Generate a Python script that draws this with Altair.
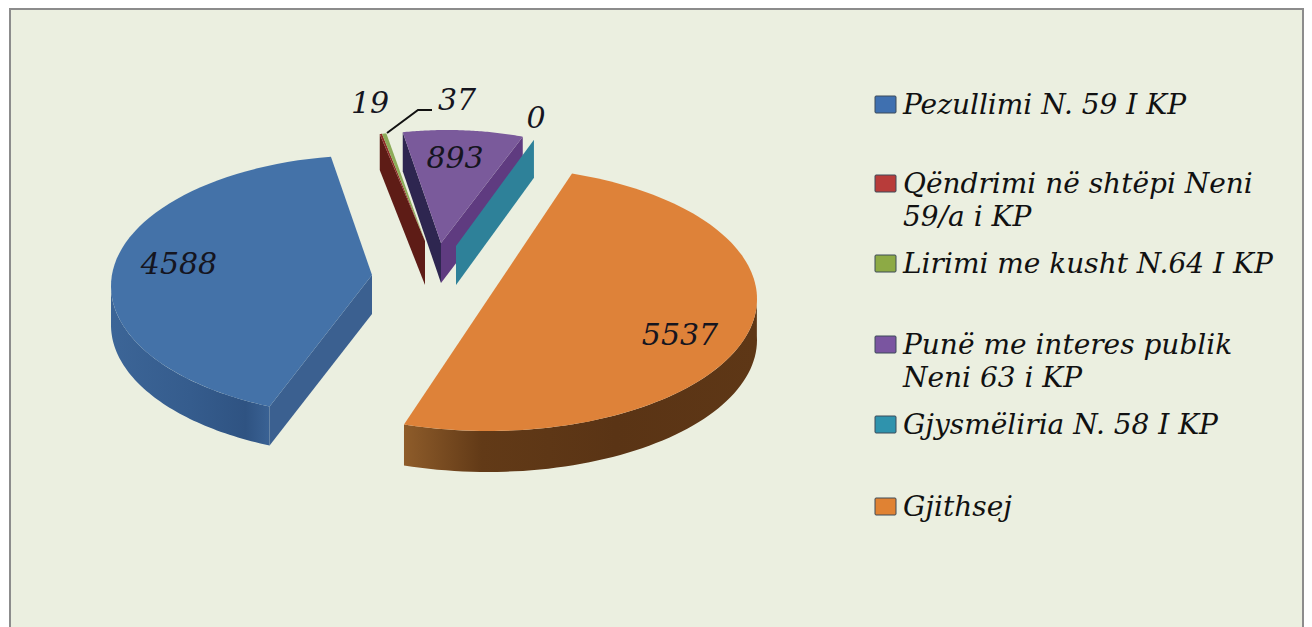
import math
import altair as alt
import pandas as pd

categories = ["Pezullimi  N. 59 I KP", "Qëndrimi në shtëpi  Neni 59/a i KP", "Lirimi me kusht N.64 I KP",
              "Punë me interes publik Neni 63 i KP", "Gjysmëliria N. 58 I KP", "Gjithsej"]
values = [4588, 19, 37, 893, 0, 5537]
face_colors = ["#4472A8", "#8E2C28", "#8CAB58", "#7A5A9B", "#2E8199", "#DE8239"]
legend_colors = ["#3F70B0", "#B83C3A", "#8DAA45", "#7A55A0", "#2F93AD", "#E08233"]
legend_lines = [["Pezullimi  N. 59 I KP"], ["Qëndrimi në shtëpi  Neni", "59/a i KP"], ["Lirimi me kusht N.64 I KP"],
                ["Punë me interes publik", "Neni 63 i KP"], ["Gjysmëliria N. 58 I KP"], ["Gjithsej"]]
legend_y = [106, 185, 265, 346, 426, 508]
LEGEND_STEP = 33
FONT = "DejaVu Serif"

# canvas coordinates of the projected pie
X = alt.X("x:Q", scale=alt.Scale(domain=[8, 1304], range=[0, 1296], nice=False, zero=False), axis=None)
Y = alt.Y("y:Q", scale=alt.Scale(domain=[8, 627], range=[0, 619], nice=False, zero=False), axis=None)

# apex, ellipse centre, radii, depth, rotation tweak for each exploded slice
geom = [
    dict(apex=(372, 275), c=(372, 286), a=261, b=131, d=39, rot=-0.2),
    dict(apex=(425, 241), c=(425, 262), a=210, b=131, d=40, rot=-3.6),
    dict(apex=(425, 241), c=(425, 262), a=210, b=131, d=40, rot=-3.6),
    dict(apex=(441, 243), c=(447, 261), a=240, b=131, d=39, rot=-3.6),
    dict(apex=(456, 246), c=(456, 264), a=247, b=131, d=38, rot=-3.6),
    dict(apex=(488, 299), c=(488, 299), a=269, b=132, d=41, rot=-3.8),
]
START = 202.0
BLUE_PERSPECTIVE = 1.3  # the near edge of the blue slice looks slightly turned in the 3-D view
total = sum(values)
spans = []
cur = START
for v in values:
    spans.append((cur, cur + v / total * 360))
    cur += v / total * 360


def pt(g, th):
    r = math.radians(th + g["rot"])
    return (g["c"][0] + g["a"] * math.sin(r), g["c"][1] - g["b"] * math.cos(r))


def arc(g, t0, t1, n=60):
    return [pt(g, t0 + (t1 - t0) * i / n) for i in range(n + 1)]


def down(points, d):
    return [(x, y + d) for x, y in points]


layers = []


def poly(points, fill):
    df = pd.DataFrame({"x": [p[0] for p in points], "y": [p[1] for p in points], "o": range(len(points))})
    layers.append(alt.Chart(df).mark_line(fill=fill, stroke=None, strokeWidth=0, interpolate="linear-closed")
                  .encode(x=X, y=Y, order="o:Q"))


def grad(stops):
    return alt.Gradient(gradient="linear", x1=0, x2=1, y1=0, y2=0,
                        stops=[alt.GradientStop(offset=o, color=c) for o, c in stops])


# frame
frame = pd.DataFrame({"x": [10], "x2": [1303], "y": [9], "y2": [640]})
layers.append(alt.Chart(frame).mark_rect(fill="#EBEFE0", stroke="#8C8C8C", strokeWidth=2)
              .encode(x=X, x2="x2:Q", y=Y, y2="y2:Q"))

# blue slice
g, (t0, t1) = geom[0], spans[0]
t0 += BLUE_PERSPECTIVE
outer = arc(g, t0, 270)
poly(outer + down(outer, g["d"])[::-1], grad([(0, "#3C6597"), (0.5, "#355C8D"), (0.85, "#2F5382"), (1, "#3A6294")]))
p = pt(g, t0)
poly([p, g["apex"], (g["apex"][0], g["apex"][1] + g["d"]), (p[0], p[1] + g["d"])], "#3B6090")
poly([g["apex"]] + arc(g, t0, t1), face_colors[0])

# red + green sliver
g, (t0, t1) = geom[1], spans[1]
p = pt(g, t0)
poly([p, g["apex"], (g["apex"][0], g["apex"][1] + 44), (p[0], p[1] + 36)], "#5E1C16")
poly([g["apex"]] + arc(g, t0, t1, 4), face_colors[1])
g, (t0, t1) = geom[2], spans[2]
poly([g["apex"]] + arc(g, t0, t1, 4), face_colors[2])

# purple slice
g, (t0, t1) = geom[3], spans[3]
p, q = pt(g, t0), pt(g, t1)
ab = (g["apex"][0], g["apex"][1] + g["d"] + 1)
poly([p, g["apex"], ab, (p[0], p[1] + g["d"])], "#2E2650")
poly([q, g["apex"], ab, (q[0], q[1] + g["d"])], "#5F3B80")
poly([g["apex"]] + arc(g, t0, t1), face_colors[3])

# teal, zero-width slice: only its cut face shows
g, (t0, t1) = geom[4], spans[4]
q = pt(g, t0)
poly([q, g["apex"], (g["apex"][0], g["apex"][1] + g["d"] + 1), (q[0], q[1] + g["d"])], face_colors[4])

# orange slice
g, (t0, t1) = geom[5], spans[5]
outer = arc(g, 92, t1 - 360)
poly(outer + down(outer, g["d"])[::-1],
     grad([(0, "#8E5C2A"), (0.22, "#623A17"), (0.6, "#5A3415"), (1, "#5E3716")]))
poly([g["apex"]] + arc(g, t0, t1, 120), face_colors[5])

# leader line of the "37" label
leader = pd.DataFrame({"x": [387, 418, 432], "y": [133, 110, 110], "o": [0, 1, 2]})
layers.append(alt.Chart(leader).mark_line(color="#111111", strokeWidth=2).encode(x=X, y=Y, order="o:Q"))

# data labels
lab = pd.DataFrame({"t": [str(v) for v in values],
                    "x": [179, 370, 457, 455, 536, 680],
                    "y": [265, 104, 101, 159, 119, 336]})
layers.append(alt.Chart(lab).mark_text(font=FONT, fontStyle="italic", fontSize=30, color="#15151F", baseline="middle")
              .encode(x=X, y=Y, text="t:N"))

# legend
sw = pd.DataFrame({"c": categories, "col": legend_colors,
                   "x": [875] * 6, "x2": [896] * 6,
                   "y": [v - 10 for v in legend_y], "y2": [v + 7 for v in legend_y]})
layers.append(alt.Chart(sw).mark_rect(stroke="#3C4A58", strokeWidth=1, cornerRadius=1)
              .encode(x=X, x2="x2:Q", y=Y, y2="y2:Q", fill=alt.Fill("col:N", scale=None)))
rows = []
for ly, lines in zip(legend_y, legend_lines):
    for i, s in enumerate(lines):
        rows.append({"t": s, "x": 903, "y": ly + i * LEGEND_STEP})
layers.append(alt.Chart(pd.DataFrame(rows)).mark_text(font=FONT, fontStyle="italic", fontSize=28, color="#111111",
                                                      align="left", baseline="middle")
              .encode(x=X, y=Y, text="t:N"))

chart = alt.layer(*layers).properties(width=1296, height=619, padding=0, background="white",
                                      autosize=alt.AutoSizeParams(type="none")) \
    .configure_view(stroke=None)
chart.save("out.html", embed_options={"renderer": "svg", "actions": False})
